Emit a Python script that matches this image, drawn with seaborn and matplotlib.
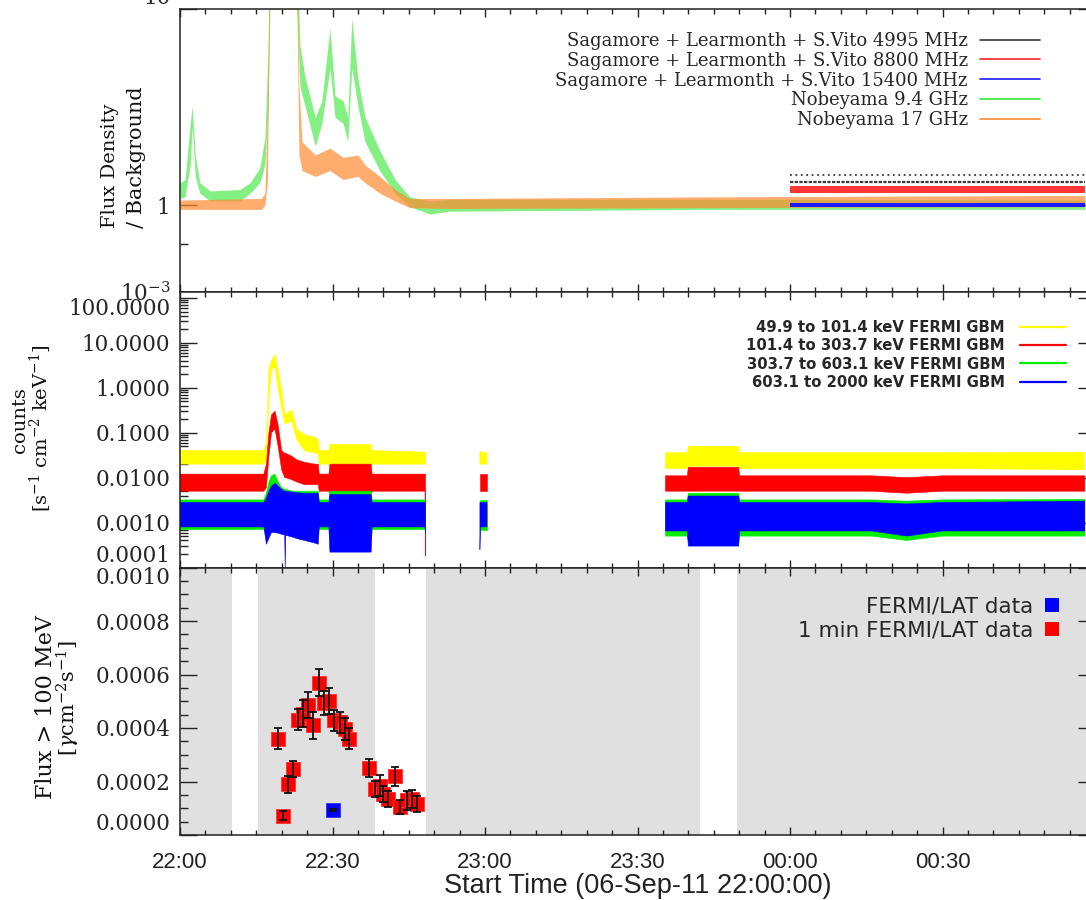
import numpy as np
import pandas as pd
import matplotlib
matplotlib.use("Agg")
import matplotlib.pyplot as plt
import seaborn as sns
from matplotlib.lines import Line2D
from matplotlib.ticker import FixedLocator, LogLocator, MultipleLocator, NullFormatter

sns.set_theme(style="ticks")
plt.rcParams["font.family"] = ["DejaVu Serif", "DejaVu Sans"]
plt.rcParams["mathtext.fontset"] = "dejavuserif"

nan = np.nan

# ---------------- radio: flux density / background (time in minutes after 22:00 UT)
nob94_t = [0.0, 1.0, 2.0, 2.4, 3.0, 3.9, 5.9, 11.8, 13.8, 15.7, 16.7, 17.3, 17.7, 23.0, 23.6,
           24.6, 26.6, 27.9, 29.5, 30.5, 32.1, 33.0, 33.8, 35.0, 36.4, 39.3, 42.3, 45.2,
           49.2, 53.1, 102.3, 178.0]
nob94_lo = [1.08, 1.10, 1.60, 2.50, 1.40, 1.15, 1.05, 1.05, 1.15, 1.30, 1.60, 3.0, 10.0, 10.0, 4.0,
            3.2, 2.0, 2.6, 5.0, 2.8, 2.6, 2.1, 5.0, 3.2, 2.1, 1.5, 1.15, 0.98,
            0.90, 0.93, 0.95, 0.95]
nob94_hi = [1.30, 1.35, 2.60, 3.20, 1.80, 1.30, 1.18, 1.20, 1.30, 1.55, 2.20, 6.0, 20.0, 20.0, 6.5,
            4.5, 2.8, 3.4, 8.0, 3.6, 3.4, 2.8, 9.0, 4.4, 2.8, 1.9, 1.35, 1.10,
            1.05, 1.07, 1.07, 1.06]

nob17_t = [0.0, 16.0, 16.7, 17.2, 17.6, 23.0, 23.4, 24.0, 26.6, 29.5, 32.1, 35.0, 36.4,
           39.3, 42.3, 45.2, 53.1, 102.3, 178.0]
nob17_lo = [0.95, 0.95, 1.00, 1.30, 10.0, 10.0, 1.80, 1.50, 1.40, 1.50, 1.35, 1.40, 1.30,
            1.15, 1.05, 0.97, 0.96, 0.97, 0.98]
nob17_hi = [1.06, 1.08, 1.15, 3.00, 20.0, 20.0, 4.00, 2.10, 1.80, 1.95, 1.75, 1.80, 1.60,
            1.40, 1.20, 1.08, 1.08, 1.10, 1.12]

sag_t = [120.0, 178.0]
sag4995_a = [1.31, 1.31]
sag4995_b = [1.42, 1.42]
sag8800_lo = [1.15, 1.15]
sag8800_hi = [1.25, 1.25]
sag15400_lo = [0.98, 0.98]
sag15400_hi = [1.03, 1.03]

radio_labels = ["Sagamore + Learmonth + S.Vito 4995 MHz",
                "Sagamore + Learmonth + S.Vito 8800 MHz",
                "Sagamore + Learmonth + S.Vito 15400 MHz",
                "Nobeyama 9.4 GHz",
                "Nobeyama 17 GHz"]
radio_colors = ["#3a3a3a", "#ff2020", "#1a1aff", "#33e633", "#ff8a30"]

# ---------------- FERMI GBM count-rate envelopes
gbm_t = [0.0, 16.5, 17.0, 17.5, 18.0, 18.7, 19.3, 20.0, 20.6, 20.7, 20.8, 22.0, 23.0, 24.5,
         26.5, 27.2, 27.4, 29.3, 29.5, 37.6, 37.8, 48.2, 48.3, 50.0, 59.0, 59.1, 60.4, 70.0,
         95.5, 99.8, 100.0, 109.9, 110.1, 136.0, 143.0, 150.0, 178.0]
gbm1_lo = [0.020, 0.020, 0.025, 0.60, 2.5, 3.0, 1.0, 0.35, 0.16, 0.16, 0.16, 0.18, 0.07, 0.040,
           0.035, 0.035, 0.020, 0.020, 0.018, 0.018, 0.020, 0.020, 0.020, nan, 0.020, 0.020, 0.020, nan,
           0.016, 0.016, 0.018, 0.018, 0.016, 0.016, 0.016, 0.016, 0.015]
gbm1_hi = [0.040, 0.040, 0.060, 2.5, 4.0, 5.5, 2.5, 0.90, 0.26, 0.26, 0.26, 0.32, 0.12, 0.090,
           0.080, 0.070, 0.040, 0.040, 0.055, 0.055, 0.040, 0.037, 0.037, nan, 0.038, 0.038, 0.035, nan,
           0.036, 0.036, 0.050, 0.050, 0.036, 0.036, 0.036, 0.036, 0.037]
gbm2_lo = [0.005, 0.005, 0.006, 0.030, 0.10, 0.12, 0.05, 0.015, 0.010, 0.010, 0.010, 0.009, 0.008, 0.007,
           0.007, 0.007, 0.005, 0.005, 0.0045, 0.0045, 0.005, 0.005, 0.00018, nan, 0.005, 0.005, 0.005, nan,
           0.005, 0.005, 0.005, 0.005, 0.005, 0.005, 0.0045, 0.005, 0.005]
gbm2_hi = [0.012, 0.012, 0.020, 0.10, 0.25, 0.30, 0.15, 0.040, 0.035, 0.035, 0.035, 0.030, 0.025, 0.022,
           0.020, 0.020, 0.012, 0.012, 0.020, 0.020, 0.012, 0.012, 0.012, nan, 0.012, 0.012, 0.012, nan,
           0.011, 0.011, 0.017, 0.017, 0.011, 0.011, 0.010, 0.011, 0.011]
gbm3_lo = [0.0007, 0.0007, 0.0006, 0.0010, 0.0030, 0.0040, 0.0030, 0.0020, 0.0015, 0.0015, 0.0015, 0.0015,
           0.0012, 0.0012, 0.0012, 0.0012, 0.0007, 0.0007, 0.0004, 0.0004, 0.0007, 0.0007, 0.0007, nan,
           0.0007, 0.0007, 0.0007, nan, 0.0005, 0.0005, 0.0004, 0.0004, 0.0005, 0.0005, 0.0004, 0.0005, 0.0005]
gbm3_hi = [0.0032, 0.0032, 0.0045, 0.0080, 0.0110, 0.0120, 0.0080, 0.0060, 0.0055, 0.0055, 0.0055, 0.0050,
           0.0050, 0.0050, 0.0050, 0.0050, 0.0032, 0.0032, 0.0050, 0.0050, 0.0032, 0.0032, 0.0032, nan,
           0.0032, 0.0032, 0.0032, nan, 0.0032, 0.0032, 0.0045, 0.0045, 0.0032, 0.0032, 0.0030, 0.0032, 0.0033]
gbm4_lo = [0.0008, 0.0008, 0.00033, 0.00045, 0.00060, 0.00060, 0.00058, 0.00055, 0.00053, 0.00010, 0.00052,
           0.00048, 0.00044, 0.00040, 0.00035, 0.00033, 0.0008, 0.0008, 0.00022, 0.00022, 0.0008, 0.0008,
           0.0006, nan, 0.00025, 0.0008, 0.0008, nan, 0.00065, 0.00065, 0.00030, 0.00030, 0.00065, 0.00065,
           0.00050, 0.00065, 0.00065]
gbm4_hi = [0.0028, 0.0028, 0.0035, 0.0050, 0.0065, 0.0075, 0.0065, 0.0055, 0.0050, 0.0050, 0.0050, 0.0048,
           0.0046, 0.0045, 0.0045, 0.0045, 0.0028, 0.0028, 0.0042, 0.0042, 0.0028, 0.0028, 0.0028, nan,
           0.0028, 0.0028, 0.0028, nan, 0.0028, 0.0028, 0.0039, 0.0039, 0.0028, 0.0028, 0.0026, 0.0028, 0.0030]

gbm_labels = ["49.9 to 101.4 keV FERMI GBM", "101.4 to 303.7 keV FERMI GBM",
              "303.7 to 603.1 keV FERMI GBM", "603.1 to 2000 keV FERMI GBM"]
gbm_colors = ["#ffff00", "#ff0000", "#00ee00", "#0000ff"]

# ---------------- FERMI/LAT flux > 100 MeV
lat1m_t = [19.34, 20.32, 21.30, 22.29, 23.27, 24.26, 25.24, 26.22, 27.34, 28.33, 29.31, 30.29,
           31.48, 32.46, 33.30, 37.24, 38.36, 39.34, 40.00, 40.98, 42.30, 43.28, 44.60, 45.58, 46.68]
lat1m_flux = [0.000360, 0.000072, 0.000189, 0.000247, 0.000431, 0.000454, 0.000485, 0.000410,
              0.000569, 0.000494, 0.000501, 0.000429, 0.000422, 0.000398, 0.000360,
              0.000251, 0.000172, 0.000185, 0.000154, 0.000135, 0.000219, 0.000104, 0.000129,
              0.000135, 0.000116]
lat1m_err = [0.000039, 0.000016, 0.000031, 0.000031, 0.000040, 0.000049, 0.000048, 0.000050,
             0.000050, 0.000046, 0.000049, 0.000040, 0.000039, 0.000041, 0.000039,
             0.000034, 0.000030, 0.000041, 0.000030, 0.000030, 0.000034, 0.000025, 0.000034,
             0.000033, 0.000031]
lat_t = [30.16]
lat_flux = [0.000093]
lat_err = [0.000004]

# LAT observing windows (shaded)
lat_windows = [(0.0, 10.29), (15.28, 38.36), (48.39, 102.3), (109.6, 180.0)]

time_ticks = [0, 30, 60, 90, 120, 150]
time_labels = ["22:00", "22:30", "23:00", "23:30", "00:00", "00:30"]

# ---------------- figure
W, H = 1086, 900
fig = plt.figure(figsize=(W / 100, H / 100), dpi=100)
x0, x1 = 180, 1095


def add_panel(top, bottom):
    return fig.add_axes([x0 / W, 1 - bottom / H, (x1 - x0) / W, (bottom - top) / H])


ax1 = add_panel(9, 292)
ax2 = add_panel(292, 567.5)
ax3 = add_panel(567.5, 835)

spine_col = "#222222"
tick_font = dict(family=["DejaVu Serif"], size=15.5)
time_font = ["Liberation Sans", "DejaVu Sans"]

for ax in (ax1, ax2, ax3):
    ax.set_facecolor("white")
    ax.set_xlim(0, 180)
    for sp in ax.spines.values():
        sp.set_color(spine_col)
        sp.set_linewidth(1.1)
    ax.xaxis.set_major_locator(FixedLocator(time_ticks))
    ax.xaxis.set_minor_locator(MultipleLocator(5))
    ax.tick_params(axis="x", which="both", direction="in", top=True, bottom=True,
                   color=spine_col, width=1.0)
    ax.tick_params(axis="x", which="major", length=6)
    ax.tick_params(axis="x", which="minor", length=3.5)
    ax.tick_params(axis="y", which="both", direction="in", left=True, right=True,
                   color=spine_col, width=1.0, pad=7, labelsize=15.5)
    ax.tick_params(axis="y", which="major", length=12)
    ax.tick_params(axis="y", which="minor", length=5.8)
    ax.grid(False)

# ---- panel 1: radio
nob94 = pd.DataFrame({"t": nob94_t, "lo": nob94_lo, "hi": nob94_hi})
nob17 = pd.DataFrame({"t": nob17_t, "lo": nob17_lo, "hi": nob17_hi})
ax1.fill_between(nob94["t"], nob94["lo"], nob94["hi"], color=radio_colors[3], alpha=0.6, lw=0)
ax1.fill_between(nob17["t"], nob17["lo"], nob17["hi"], color=radio_colors[4], alpha=0.7, lw=0)
ax1.fill_between(sag_t, sag15400_lo, sag15400_hi, color=radio_colors[2], lw=0)
ax1.fill_between(sag_t, sag8800_lo, sag8800_hi, color=radio_colors[1], alpha=0.9, lw=0)
sns.lineplot(x=sag_t, y=sag4995_a, ax=ax1, color=radio_colors[0], lw=1.6, dashes=(1.5, 0.6))
sns.lineplot(x=sag_t, y=sag4995_b, ax=ax1, color=radio_colors[0], lw=1.3, dashes=(1.0, 2.0))
ax1.set_yscale("log")
ax1.set_ylim(0.36, 10)
ax1.yaxis.set_major_locator(FixedLocator([0.36, 1, 10]))
ax1.set_yticklabels(["10$^{-3}$", "1", "10"], fontdict=tick_font)
ax1.yaxis.set_minor_locator(FixedLocator([0.63]))
ax1.yaxis.set_minor_formatter(NullFormatter())
ax1.yaxis.get_major_ticks()[2].label1.set_va("bottom")
ax1.set_xticklabels([])
ax1.set_ylabel("")
h1 = [Line2D([], [], color=c, lw=1.2) for c in radio_colors]
ax1.legend(h1, radio_labels, loc="upper right", bbox_to_anchor=(1040 / W, 1 - 32 / H),
           bbox_transform=fig.transFigure, frameon=False, markerfirst=False,
           prop=dict(family=["DejaVu Serif"], size=13), handlelength=3.3,
           handletextpad=0.7, labelspacing=0.1, borderpad=0, borderaxespad=0)

# ---- panel 2: GBM
gbm = pd.DataFrame({"t": gbm_t,
                    "lo1": gbm1_lo, "hi1": gbm1_hi, "lo2": gbm2_lo, "hi2": gbm2_hi,
                    "lo3": gbm3_lo, "hi3": gbm3_hi, "lo4": gbm4_lo, "hi4": gbm4_hi})
for k, c in enumerate(gbm_colors, start=1):
    ax2.fill_between(gbm["t"], gbm[f"lo{k}"], gbm[f"hi{k}"], color=c, lw=0.4, edgecolor=c)
ax2.set_yscale("log")
ax2.set_ylim(1e-4, 136)
gbm_ticks = [1e-4, 1e-3, 1e-2, 1e-1, 1, 10, 100]
ax2.yaxis.set_major_locator(FixedLocator(gbm_ticks))
ax2.set_yticklabels([f"{v:.4f}" for v in gbm_ticks], fontdict=tick_font)
ax2.yaxis.set_minor_locator(LogLocator(base=10, subs=np.arange(2, 10), numticks=20))
ax2.yaxis.set_minor_formatter(NullFormatter())
ax2.yaxis.get_major_ticks()[0].label1.set_va("bottom")
ax2.yaxis.get_major_ticks()[-1].label1.set_va("top")
ax2.set_xticklabels([])
h2 = [Line2D([], [], color=c, lw=1.6) for c in gbm_colors]
ax2.legend(h2, gbm_labels, loc="upper right", bbox_to_anchor=(1066 / W, 1 - 320 / H),
           bbox_transform=fig.transFigure, frameon=False, markerfirst=False,
           prop=dict(family=["DejaVu Sans"], size=10.7, weight="bold"), handlelength=3.1,
           handletextpad=1.0, labelspacing=0.22, borderpad=0, borderaxespad=0)

# ---- panel 3: LAT
for a, b in lat_windows:
    ax3.axvspan(a, b, color="#e0e0e0", lw=0, zorder=0)
lat1m = pd.DataFrame({"t": lat1m_t, "flux": lat1m_flux, "err": lat1m_err})
sns.scatterplot(data=lat1m, x="t", y="flux", ax=ax3, marker="s", s=110, color="#ff0000",
                edgecolor="#ff3030", linewidth=0.6, zorder=3, legend=False)
ax3.errorbar(lat1m["t"], lat1m["flux"], yerr=lat1m["err"], fmt="none", ecolor="#111111",
             elinewidth=1.3, capsize=3.2, capthick=1.3, zorder=4)
sns.scatterplot(x=lat_t, y=lat_flux, ax=ax3, marker="s", s=110, color="#0000ff",
                edgecolor="#3030ff", linewidth=0.6, zorder=3, legend=False)
ax3.errorbar(lat_t, lat_flux, yerr=lat_err, fmt="none", ecolor="#111111",
             elinewidth=1.3, capsize=3.2, capthick=1.3, zorder=4)
ax3.set_ylim(0, 0.001)
ax3.yaxis.set_minor_locator(MultipleLocator(0.00005))
lat_ticks = [0.0, 0.0002, 0.0004, 0.0006, 0.0008, 0.0010]
ax3.yaxis.set_major_locator(FixedLocator(lat_ticks))
ax3.set_yticklabels([f"{v:.4f}" for v in lat_ticks], fontdict=tick_font)
ax3.yaxis.get_major_ticks()[0].label1.set_va("bottom")
ax3.yaxis.get_major_ticks()[-1].label1.set_va("top")
ax3.set_xticks(time_ticks)
ax3.set_xticklabels(time_labels, fontdict=dict(family=time_font, size=16, color="#222222"))
ax3.tick_params(axis="x", which="major", pad=12)
ax3.set_xlabel("Start Time (06-Sep-11 22:00:00)",
               fontdict=dict(family=time_font, size=19.5, color="#222222"), labelpad=0)
ax3.set_ylabel("")
h3 = [Line2D([], [], color=c, marker="s", ls="", markersize=9.5, markeredgewidth=0)
      for c in ("#0000ff", "#ff0000")]
ax3.legend(h3, ["FERMI/LAT data", "1 min FERMI/LAT data"], loc="upper right",
           bbox_to_anchor=(1062 / W, 1 - 597 / H), bbox_transform=fig.transFigure,
           frameon=False, markerfirst=False, prop=dict(family=["DejaVu Sans"], size=15.5),
           handlelength=0.9, handletextpad=0.45, labelspacing=0.15, borderpad=0,
           borderaxespad=0)

# ---- axis titles
ylab = dict(rotation=90, ha="center", color="#111111", family=["DejaVu Serif"])
fig.text(110 / W, 1 - 228 / H, "Flux Density", va="bottom", size=14, **ylab)
fig.text(136 / W, 1 - 228 / H, "/ Background", va="bottom", size=15, **ylab)
fig.text(20 / W, 1 - 420 / H, "counts", va="center", size=14, **ylab)
fig.text(41 / W, 1 - 428 / H, "[s$^{-1}$ cm$^{-2}$ keV$^{-1}$]", va="center", size=14, **ylab)
fig.text(46 / W, 1 - 707 / H, "Flux > 100 MeV", va="center", size=16, **ylab)
fig.text(68 / W, 1 - 698 / H, r"[$\gamma$cm$^{-2}$s$^{-1}$]", va="center", size=15, **ylab)

fig.savefig("out.png", dpi=100)
